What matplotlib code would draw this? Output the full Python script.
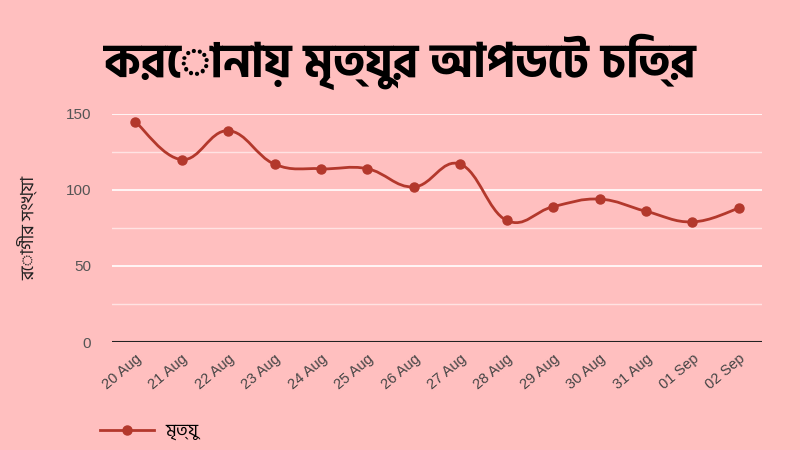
import matplotlib
matplotlib.use("Agg")
import matplotlib.pyplot as plt
from matplotlib.path import Path
from matplotlib.patches import PathPatch
from matplotlib.ticker import MultipleLocator
import numpy as np

# data
dates = ["20 Aug", "21 Aug", "22 Aug", "23 Aug", "24 Aug", "25 Aug", "26 Aug",
         "27 Aug", "28 Aug", "29 Aug", "30 Aug", "31 Aug", "01 Sep", "02 Sep"]
deaths = [145, 120, 139, 117, 114, 114, 102, 117, 80, 89, 94, 86, 79, 88]

title = "করোনায় মৃত্যুর আপডেট চিত্র"
ylabel = "রোগীর সংখ্যা"
series_name = "মৃত্যু"

bg = "#ffbfbf"
red = "#b3382c"
bn_font = ["Hind Siliguri", "Noto Sans Bengali", "DejaVu Sans"]

fig = plt.figure(figsize=(8, 4.5), dpi=100, facecolor=bg)
ax = fig.add_axes([0.14, 0.24, 0.8125, 0.5067])
ax.set_facecolor(bg)

x = np.arange(len(deaths))
y = np.array(deaths, dtype=float)

# smooth curve through the points (cubic bezier segments, like google charts)
verts = [(x[0], y[0])]
codes = [Path.MOVETO]
t = 0.2
for i in range(len(x) - 1):
    x0, y0 = x[max(i - 1, 0)], y[max(i - 1, 0)]
    x1, y1 = x[i], y[i]
    x2, y2 = x[i + 1], y[i + 1]
    x3, y3 = x[min(i + 2, len(x) - 1)], y[min(i + 2, len(x) - 1)]
    c1 = (x1 + (x2 - x0) * t, y1 + (y2 - y0) * t)
    c2 = (x2 - (x3 - x1) * t, y2 - (y3 - y1) * t)
    verts += [c1, c2, (x2, y2)]
    codes += [Path.CURVE4] * 3
ax.add_patch(PathPatch(Path(verts, codes), fill=False, edgecolor=red, lw=2, zorder=3))
ax.plot(x, y, "o", color=red, ms=6.5, zorder=4)
line_handle, = ax.plot([], [], "-o", color=red, lw=2, ms=6.5)

ax.set_xlim(-0.5, len(x) - 0.5)
ax.set_ylim(0, 150)
ax.yaxis.set_major_locator(MultipleLocator(50))
ax.yaxis.set_minor_locator(MultipleLocator(25))
ax.grid(which="major", axis="y", color="white", lw=1.2)
ax.grid(which="minor", axis="y", color="#ffe3e3", lw=1)
ax.axhline(0, color="#222222", lw=1.5, zorder=5)
for s in ax.spines.values():
    s.set_visible(False)
ax.tick_params(axis="both", which="both", length=0)
ax.tick_params(axis="y", pad=15, labelsize=11, labelcolor="#555555")
ax.set_xticks(x)
ax.set_xticklabels(dates, rotation=40, ha="right", rotation_mode="anchor",
                   fontsize=10.5, color="#444444", family="Liberation Sans")
for lab in ax.get_yticklabels():
    lab.set_family("Liberation Sans")
ax.tick_params(axis="x", pad=7)

fig.text(0.034, 0.493, ylabel, rotation=90, ha="center", va="center",
         fontsize=13, family=bn_font, color="#222222")
fig.text(0.5, 0.862, title, ha="center", va="center", fontsize=34,
         fontweight="bold", family=["Hind Siliguri", "DejaVu Sans"], color="black")

fig.legend([line_handle], [series_name], loc="center left",
           bbox_to_anchor=(0.125, 0.04), frameon=False, handlelength=3.0,
           handletextpad=0.6, borderaxespad=0, borderpad=0,
           prop={"family": bn_font, "size": 13})

fig.savefig("out.png", facecolor=bg)
